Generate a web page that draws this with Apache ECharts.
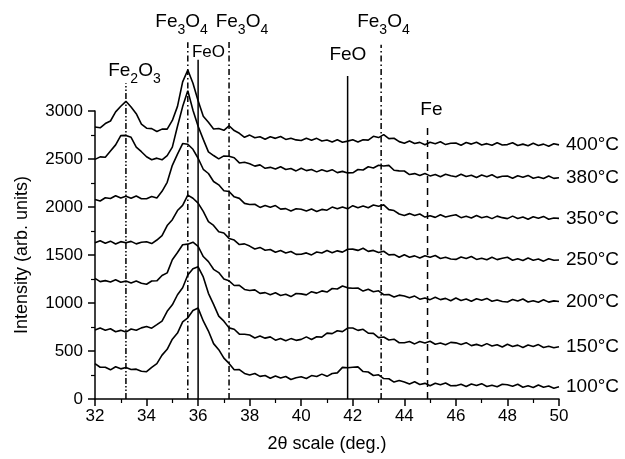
<!DOCTYPE html>
<html>
<head>
<meta charset="utf-8">
<script src="https://cdn.jsdelivr.net/npm/echarts@6/dist/echarts.min.js"></script>
<style>
  html, body { margin: 0; padding: 0; background: #fff; }
  #chart { width: 625px; height: 459px; }
</style>
</head>
<body>
<div id="chart"></div>
<script>
// 2θ 采样点 (deg.)
var angles = [
  32,32.2,32.4,32.6,32.8,33,33.2,33.4,33.6,33.8,
  34,34.2,34.4,34.6,34.8,35,35.2,35.4,35.6,35.8,
  36,36.2,36.4,36.6,36.8,37,37.2,37.4,37.6,37.8,
  38,38.2,38.4,38.6,38.8,39,39.2,39.4,39.6,39.8,
  40,40.2,40.4,40.6,40.8,41,41.2,41.4,41.6,41.8,
  42,42.2,42.4,42.6,42.8,43,43.2,43.4,43.6,43.8,
  44,44.2,44.4,44.6,44.8,45,45.2,45.4,45.6,45.8,
  46,46.2,46.4,46.6,46.8,47,47.2,47.4,47.6,47.8,
  48,48.2,48.4,48.6,48.8,49,49.2,49.4,49.6,49.8,
  50
];

var temps = ['100°C', '150°C', '200°C', '250°C', '350°C', '380°C', '400°C'];

var i100 = [
  368,331,331,304,336,314,329,308,311,289,
  284,329,368,457,518,623,687,804,846,921,
  947,813,708,577,514,426,371,304,306,266,
  249,266,236,244,216,239,218,235,203,221,
  231,214,244,234,259,236,265,272,329,326,
  331,335,286,281,245,252,213,211,176,193,
  178,157,179,151,163,139,164,148,167,138,
  139,153,130,156,140,160,130,144,127,153,
  149,133,153,123,137,120,146,122,136,113,
  128
];
var i150 = [
  720,739,716,732,700,715,697,729,716,741,
  755,738,774,812,914,981,1086,1159,1291,1356,
  1377,1271,1101,986,864,811,741,727,676,675,
  666,636,656,634,647,613,631,607,629,611,
  621,647,620,648,645,686,681,711,702,739,
  739,715,726,686,684,639,646,614,623,586,
  586,598,574,599,583,602,571,583,565,590,
  585,568,587,556,569,552,577,553,566,542,
  571,547,561,537,563,547,567,536,550,533,
  545
];
var i200 = [
  1257,1223,1233,1219,1242,1216,1228,1209,1229,1206,
  1195,1229,1231,1286,1314,1451,1526,1607,1613,1633,
  1591,1484,1431,1351,1317,1250,1231,1182,1184,1141,
  1131,1137,1100,1108,1085,1106,1079,1091,1067,1099,
  1095,1085,1118,1103,1126,1114,1151,1146,1177,1158,
  1153,1156,1124,1143,1118,1127,1086,1088,1062,1082,
  1073,1054,1072,1040,1053,1035,1060,1035,1048,1024,
  1052,1027,1041,1018,1044,1028,1048,1018,1032,1015,
  1011,1037,1021,1041,1010,1024,1007,1033,1009,1022,
  1015
];
var i250 = [
  1627,1649,1623,1644,1614,1639,1628,1642,1616,1633,
  1638,1619,1656,1701,1807,1868,1963,2017,2124,2091,
  2041,1954,1848,1808,1742,1729,1673,1656,1609,1616,
  1593,1562,1579,1549,1558,1529,1546,1521,1537,1506,
  1508,1522,1501,1531,1521,1547,1523,1543,1530,1560,
  1561,1548,1570,1538,1548,1525,1539,1501,1506,1476,
  1502,1477,1491,1468,1493,1476,1495,1464,1477,1459,
  1454,1480,1464,1484,1454,1467,1450,1476,1452,1466,
  1476,1446,1460,1443,1469,1445,1459,1436,1461,1445,
  1448
];
var i350 = [
  2079,2062,2096,2088,2117,2093,2113,2092,2114,2086,
  2086,2109,2093,2163,2257,2434,2551,2661,2654,2601,
  2508,2393,2349,2266,2231,2169,2161,2106,2090,2038,
  2026,2028,1996,2016,1998,2015,1978,1983,1959,1982,
  1976,1959,1979,1953,1975,1967,1999,1981,2001,1981,
  2014,1993,2011,1992,2021,2008,2022,1973,1963,1927,
  1912,1931,1911,1927,1895,1909,1892,1919,1895,1909,
  1919,1889,1903,1886,1912,1888,1902,1879,1905,1889,
  1879,1905,1881,1895,1872,1898,1882,1902,1872,1886,
  1882
];
var i380 = [
  2496,2522,2518,2583,2647,2744,2746,2726,2624,2576,
  2523,2492,2509,2491,2536,2624,2841,3046,3212,3008,
  2841,2704,2574,2536,2501,2532,2528,2513,2459,2466,
  2451,2426,2439,2403,2413,2395,2420,2391,2401,2376,
  2404,2379,2391,2366,2389,2371,2389,2358,2371,2355,
  2356,2391,2386,2419,2406,2435,2427,2434,2383,2376,
  2375,2338,2348,2327,2349,2324,2339,2316,2341,2326,
  2315,2341,2317,2331,2307,2333,2316,2336,2306,2320,
  2322,2299,2325,2309,2329,2299,2313,2296,2322,2298,
  2305
];
var i400 = [
  2833,2825,2869,2896,2991,3049,3101,3041,2972,2863,
  2821,2816,2786,2811,2811,2902,3048,3303,3427,3289,
  3106,2946,2882,2813,2818,2799,2846,2796,2768,2726,
  2749,2721,2732,2706,2731,2715,2735,2704,2717,2699,
  2692,2715,2696,2715,2688,2698,2677,2700,2674,2686,
  2701,2678,2701,2697,2736,2723,2754,2712,2716,2681,
  2665,2688,2661,2673,2648,2674,2659,2679,2650,2664,
  2667,2644,2671,2655,2675,2646,2660,2643,2669,2646,
  2650,2670,2641,2655,2638,2664,2641,2655,2632,2659,
  2647
];

// 物相参考线：位置与上端
var refX = [33.2, 35.6, 36.0, 37.2, 41.8, 43.1, 44.9];
var refTop = [3290, 3715, 3535, 3720, 3365, 3690, 2845];

// 物相标注
var phaseNames = ['Fe2O3', 'Fe3O4', 'FeO', 'Fe3O4', 'FeO', 'Fe3O4', 'Fe'];
var phaseX = [33.53, 35.36, 36.4, 37.7, 41.81, 43.19, 45.05];
var phaseY = [3417, 3930, 3609, 3930, 3583, 3930, 3016];

function loadChart() {
  var myChart = echarts.init(document.getElementById('chart'));
  var font = 'Liberation Sans, Arial, sans-serif';
  var traces = [i100, i150, i200, i250, i350, i380, i400];

  // 线型：Fe2O3 点划点，Fe3O4 点划，FeO 实线，Fe 虚线
  var dashOf = {
    'Fe2O3': [6, 2, 1.5, 2, 1.5, 2],
    'Fe3O4': [6, 3, 1.5, 3],
    'FeO': 'solid',
    'Fe': [7, 5]
  };
  var refPhase = ['Fe2O3', 'Fe3O4', 'FeO', 'Fe3O4', 'FeO', 'Fe3O4', 'Fe'];

  var series = [];
  traces.forEach(function (vals, k) {
    series.push({
      name: temps[k],
      type: 'line',
      data: angles.map(function (a, i) { return [a, vals[i]]; }),
      showSymbol: false,
      symbol: 'none',
      clip: false,
      silent: true,
      lineStyle: { color: '#000', width: 1.6 },
      endLabel: {
        show: true,
        formatter: '{a}',
        distance: 7,
        color: '#000',
        fontSize: 19,
        fontFamily: font
      }
    });
  });

  refX.forEach(function (x, k) {
    series.push({
      type: 'line',
      data: [[x, 0], [x, refTop[k]]],
      showSymbol: false,
      symbol: 'none',
      clip: false,
      silent: true,
      z: 3,
      lineStyle: { color: '#000', width: 1.5, type: dashOf[refPhase[k]] }
    });
  });

  // 物相名称（下标用富文本）
  series.push({
    type: 'scatter',
    data: phaseX.map(function (x, k) { return [x, phaseY[k]]; }),
    symbolSize: 0,
    clip: false,
    silent: true,
    itemStyle: { color: '#000', opacity: 1 },
    label: {
      show: true,
      position: 'inside',
      color: '#000',
      opacity: 1,
      textBorderWidth: 0,
      formatter: function (p) {
        var small = p.dataIndex === 2;
        var parts = phaseNames[p.dataIndex].split(/(\d)/).filter(function (s) { return s; });
        return parts.map(function (s) {
          if (/\d/.test(s)) return '{s|' + s + '}';
          return (small ? '{t|' : '{m|') + s + '}';
        }).join('');
      },
      rich: {
        m: { fontSize: 19, lineHeight: 30, color: '#000', fontFamily: font },
        t: { fontSize: 17, lineHeight: 20, color: '#000', fontFamily: font },
        s: { fontSize: 14, lineHeight: 14, verticalAlign: 'bottom', color: '#000', fontFamily: font }
      }
    }
  });

  var option = {
    animation: false,
    backgroundColor: '#fff',
    grid: { left: 95, right: 66, top: 111, bottom: 60, outerBoundsMode: 'none' },
    xAxis: {
      type: 'value',
      min: 32, max: 50, interval: 2,
      name: '2θ scale (deg.)',
      nameLocation: 'middle',
      nameGap: 36,
      nameTextStyle: { fontSize: 18, color: '#000', fontFamily: font },
      axisLine: { lineStyle: { color: '#000', width: 1.5 } },
      axisTick: { length: 7, lineStyle: { color: '#000', width: 1.5 } },
      minorTick: { show: true, splitNumber: 2, length: 4, lineStyle: { color: '#000', width: 1.2 } },
      splitLine: { show: false },
      axisLabel: { fontSize: 17, color: '#000', margin: 9, fontFamily: font }
    },
    yAxis: {
      type: 'value',
      min: 0, max: 3000, interval: 500,
      name: 'Intensity (arb. units)',
      nameLocation: 'middle',
      nameGap: 64,
      nameTextStyle: { fontSize: 18, color: '#000', fontFamily: font },
      axisLine: { show: true, lineStyle: { color: '#000', width: 1.5 } },
      axisTick: { show: true, length: 7, lineStyle: { color: '#000', width: 1.5 } },
      minorTick: { show: true, splitNumber: 2, length: 4, lineStyle: { color: '#000', width: 1.2 } },
      splitLine: { show: false },
      axisLabel: {
        fontSize: 17, color: '#000', margin: 12, fontFamily: font,
        formatter: function (v) { return String(v); }
      }
    },
    series: series
  };

  myChart.setOption(option);
}
loadChart();
</script>
</body>
</html>
